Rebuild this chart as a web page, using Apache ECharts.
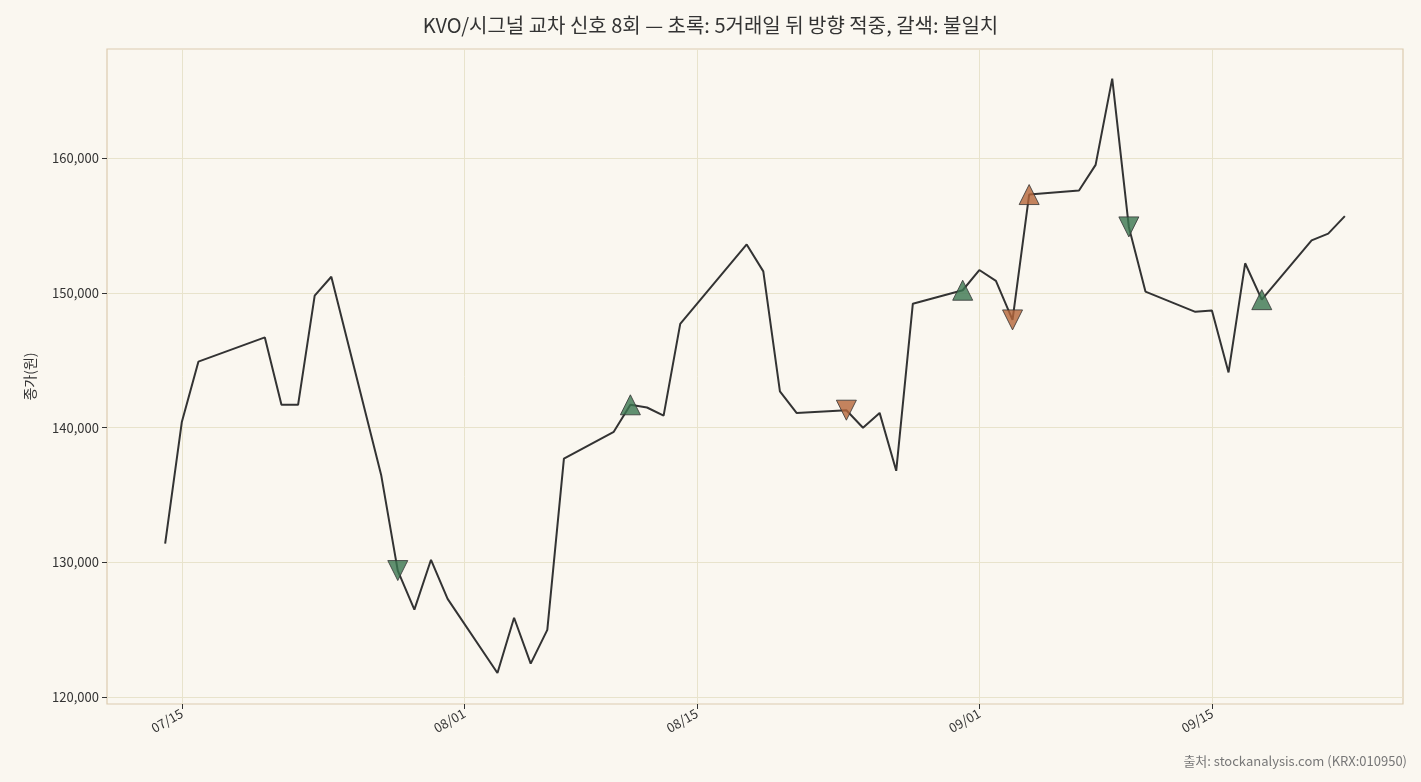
<!DOCTYPE html>
<html><head><meta charset="utf-8">
<script src="https://cdn.jsdelivr.net/npm/echarts@6/dist/echarts.min.js"></script>
<style>html,body{margin:0;background:#faf7f0}#c{width:1421px;height:782px}</style>
</head><body><div id="c"></div>
<script>
const dates=["2020-07-14","2020-07-15","2020-07-16","2020-07-20","2020-07-21","2020-07-22","2020-07-23","2020-07-24","2020-07-27","2020-07-28","2020-07-29","2020-07-30","2020-07-31","2020-08-03","2020-08-04","2020-08-05","2020-08-06","2020-08-07","2020-08-10","2020-08-11","2020-08-12","2020-08-13","2020-08-14","2020-08-18","2020-08-19","2020-08-20","2020-08-21","2020-08-24","2020-08-25","2020-08-26","2020-08-27","2020-08-28","2020-08-31","2020-09-01","2020-09-02","2020-09-03","2020-09-04","2020-09-07","2020-09-08","2020-09-09","2020-09-10","2020-09-11","2020-09-14","2020-09-15","2020-09-16","2020-09-17","2020-09-18","2020-09-21","2020-09-22","2020-09-23"];
const closes=[131400,140400,144900,146700,141700,141700,149800,151200,136500,129400,126500,130200,127300,121800,125900,122500,125000,137700,139700,141700,141500,140900,147700,153600,151600,142700,141100,141300,140000,141100,136800,149200,150200,151700,150900,148000,157300,157600,159500,165900,154900,150100,148600,148700,144100,152200,149500,153900,154400,155700];
const sigDates=["2020-07-28","2020-08-11","2020-08-24","2020-08-31","2020-09-03","2020-09-04","2020-09-10","2020-09-18"];
const sigDir=["down","up","down","up","down","up","down","up"];
const sigHit=[true,true,false,true,false,false,true,true];
const tickDates=["2020-07-15","2020-08-01","2020-08-15","2020-09-01","2020-09-15"];
const ts=d=>Date.UTC(+d.slice(0,4),+d.slice(5,7)-1,+d.slice(8,10));
const lineData=dates.map((d,i)=>[ts(d),closes[i]]);
const sigData=sigDates.map((d,i)=>({value:[ts(d),closes[dates.indexOf(d)]],symbolRotate:sigDir[i]==="down"?180:0,itemStyle:{color:sigHit[i]?"#3b7550":"#b5653a"}}));
const ticks=tickDates.map(ts);
const pad=n=>String(n).padStart(2,"0");
const chart=echarts.init(document.getElementById('c'));
chart.setOption({
  backgroundColor:"#faf7f0",
  textStyle:{fontFamily:"Noto Sans CJK KR"},
  title:{text:"KVO/시그널 교차 신호 8회 — 초록: 5거래일 뒤 방향 적중, 갈색: 불일치",left:"center",top:10,textStyle:{fontSize:20,fontWeight:"normal",color:"#333",fontFamily:"Noto Sans CJK KR"}},
  graphic:[{type:"text",right:14,bottom:14,style:{text:"출처: stockanalysis.com (KRX:010950)",fontSize:13,fill:"#777",fontFamily:"Noto Sans CJK KR"}},
    {type:"rect",shape:{x:107,y:49,width:1296,height:655},style:{fill:"none",stroke:"#dccbb0",lineWidth:1.2},z:-1}],
  grid:{left:107,right:18,top:49,bottom:78},
  xAxis:{type:"value",min:ts("2020-07-10")+12*3600e3,max:ts("2020-09-26")+12*3600e3,
    axisLine:{show:false},
    axisTick:{show:true,customValues:ticks,lineStyle:{color:"#333"},length:5},
    axisLabel:{customValues:ticks,rotate:30,fontSize:13,color:"#333",formatter:v=>{const d=new Date(v);return pad(d.getUTCMonth()+1)+"/"+pad(d.getUTCDate());}},
    splitLine:{show:true,lineStyle:{color:"#e8e3cc"}}},
  yAxis:{type:"value",min:119500,max:168100,name:"종가(원)",nameLocation:"middle",nameGap:70,nameTextStyle:{fontSize:14,color:"#333"},
    axisLine:{show:false},axisTick:{show:true,customValues:[120000,130000,140000,150000,160000],lineStyle:{color:"#333"},length:5},
    axisLabel:{customValues:[120000,130000,140000,150000,160000],fontSize:13,color:"#333"},
    splitLine:{lineStyle:{color:"#e8e3cc"}}},
  series:[
    {type:"line",data:lineData,symbol:"none",lineStyle:{color:"#333",width:2},z:2},
    {type:"scatter",data:sigData,symbol:"triangle",symbolSize:20,itemStyle:{borderColor:"#333",borderWidth:1},z:3}
  ]
});
</script></body></html>
